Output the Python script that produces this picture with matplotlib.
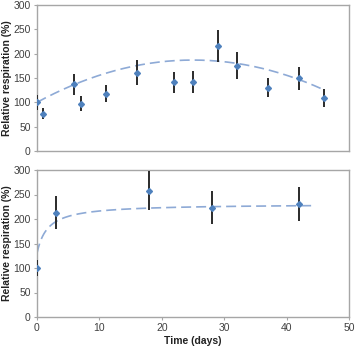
import numpy as np
import matplotlib.pyplot as plt

plt.rcParams['font.family'] = ['Liberation Sans', 'DejaVu Sans']

# top panel data
days_a = [0, 1, 6, 7, 11, 16, 22, 25, 29, 32, 37, 42, 46]
resp_a = [100, 77, 137, 97, 118, 161, 141, 142, 216, 175, 130, 149, 109]
err_a = [15, 11, 21, 15, 18, 25, 22, 22, 33, 28, 20, 24, 18]
# quadratic fit coefficients (c0, c1, c2)
fit_a = [100, 6.95, -0.139]

# bottom panel data
days_b = [0, 3, 18, 28, 42]
resp_b = [100, 213, 258, 223, 230]
err_b = [17, 33, 40, 34, 35]
# saturating fit: y0 + A*x/(K+x)
fit_b = [130, 101, 1.7]

blue = '#4f81bd'
curve_col = '#8eaad6'
spine_col = '#a6a6a6'
text_col = '#404040'

fig = plt.figure(figsize=(3.58, 3.48), dpi=100)
ax1 = fig.add_axes([37/358, 1 - 151/348, 312/358, 146/348])
ax2 = fig.add_axes([37/358, 1 - 317/348, 312/358, 147/348])

xa = np.linspace(0, 46, 200)
ya = fit_a[0] + fit_a[1]*xa + fit_a[2]*xa**2
xb = np.linspace(0, 44, 400)
yb = fit_b[0] + fit_b[1]*xb/(fit_b[2] + xb)

for ax, x, y, e, cx, cy in [(ax1, days_a, resp_a, err_a, xa, ya),
                            (ax2, days_b, resp_b, err_b, xb, yb)]:
    ax.plot(cx, cy, color=curve_col, lw=1.2, dashes=(6, 3), zorder=2)
    ax.errorbar(x, y, yerr=e, fmt='none', ecolor='#2a2a2a', elinewidth=1.4,
                capsize=0, zorder=3)
    ax.plot(x, y, 'D', color=blue, ms=3, zorder=4)
    ax.set_xlim(0, 50)
    ax.set_ylim(0, 300)
    ax.set_yticks(range(0, 301, 50))
    for s in ax.spines.values():
        s.set_color(spine_col)
        s.set_linewidth(1.0)
    ax.tick_params(colors=spine_col, labelcolor=text_col, labelsize=7.5,
                   length=2.5, width=0.8, direction='out', pad=2)
    ax.set_ylabel('Relative respiration (%)', fontsize=7.5, fontweight='bold',
                  color='#222222')
    ax.yaxis.set_label_coords(-0.08, 0.5)

ax1.set_xticks([])
ax2.set_xticks(range(0, 51, 10))
ax2.set_xlabel('Time (days)', fontsize=7.5, fontweight='bold',
               color='#222222', labelpad=2)

fig.savefig('out.png', dpi=100)
